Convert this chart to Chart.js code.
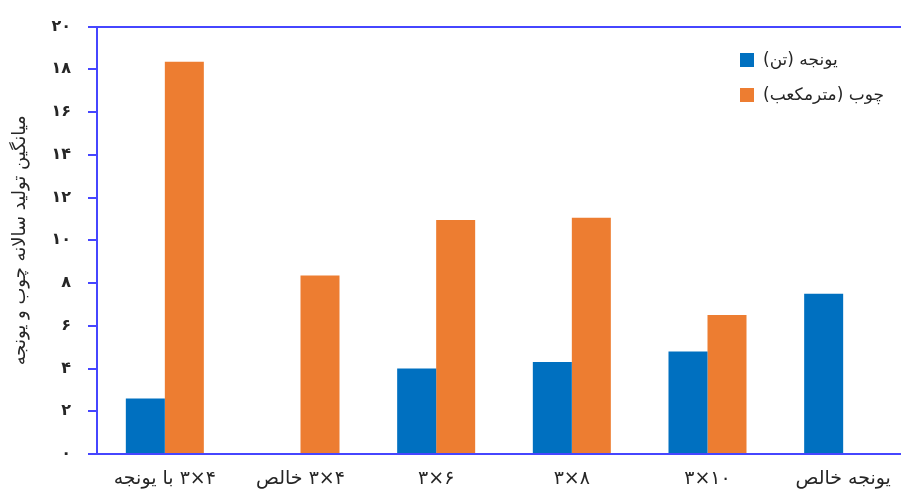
<!DOCTYPE html>
<html>
<head>
<meta charset="utf-8">
<script src="https://cdn.jsdelivr.net/npm/chart.js@4"></script>
<style>
  html, body { margin: 0; padding: 0; background: #fff; overflow: hidden; }
  #wrap { width: 912px; height: 497px; position: relative; }
  canvas { direction: rtl; }
</style>
</head>
<body>
<div id="wrap"><canvas id="c" dir="rtl"></canvas></div>
<script>
// ---- data ----
const categories = ['\u2066۳×۴\u2069 با یونجه', '\u2066۳×۴\u2069 خالص', '\u2066۳×۶\u2069', '\u2066۳×۸\u2069', '\u2066۳×۱۰\u2069', 'یونجه خالص'];
const seriesNames = ['یونجه (تن)', 'چوب (مترمکعب)'];
const alfalfa = [2.6, null, 4.0, 4.3, 4.8, 7.5];
const wood = [18.35, 8.35, 10.95, 11.05, 6.5, null];
const yTickLabels = ['۰', '۲', '۴', '۶', '۸', '۱۰', '۱۲', '۱۴', '۱۶', '۱۸', '۲۰'];
const yTitle = 'میانگین تولید سالانه چوب و یونجه';

const FONT = "'DejaVu Sans', sans-serif";
const AXIS = '#4646ff';
const BLUE = '#0070C0';
const ORANGE = '#ED7D31';
const TEXT = '#262626';

const legendPlugin = {
  id: 'customLegend',
  afterDraw(chart) {
    const ctx = chart.ctx;
    ctx.save();
    ctx.direction = 'rtl';
    ctx.font = '17px ' + FONT;
    ctx.textBaseline = 'middle';
    ctx.textAlign = 'left';
    const items = chart.data.datasets;
    const bx = 740, by = [53, 88], size = 14;
    items.forEach((ds, i) => {
      ctx.fillStyle = ds.backgroundColor;
      ctx.fillRect(bx, by[i], size, size);
      ctx.fillStyle = TEXT;
      ctx.fillText(ds.label, bx + 23, by[i] + size / 2 + 1);
    });
    ctx.restore();
  }
};

new Chart(document.getElementById('c'), {
  type: 'bar',
  data: {
    labels: categories,
    datasets: [
      { label: seriesNames[0], data: alfalfa, backgroundColor: BLUE },
      { label: seriesNames[1], data: wood, backgroundColor: ORANGE }
    ]
  },
  options: {
    responsive: true,
    maintainAspectRatio: false,
    animation: false,
    devicePixelRatio: 1,
    layout: { padding: { top: 24, right: 1, left: 0, bottom: 0 } },
    plugins: { legend: { display: false }, tooltip: { enabled: false } },
    datasets: { bar: { categoryPercentage: 0.575, barPercentage: 1 } },
    scales: {
      x: {
        grid: { display: true, drawOnChartArea: false, drawTicks: false, tickLength: 0 },
        border: { display: true, color: AXIS, width: 2 },
        ticks: {
          color: TEXT, font: { family: FONT, size: 19 }, padding: 14,
          maxRotation: 0, minRotation: 0, autoSkip: false
        },
        afterFit(scale) { scale.height = 43; }
      },
      y: {
        min: 0, max: 20,
        grid: {
          display: true, drawOnChartArea: true, drawTicks: true, tickLength: 9,
          lineWidth: 2,
          color: (c) => (c.tick && c.tick.value === 20) ? AXIS : 'rgba(0,0,0,0)',
          tickColor: AXIS, tickWidth: 2
        },
        border: { display: true, color: AXIS, width: 2 },
        ticks: {
          stepSize: 2, color: TEXT, font: { family: FONT, size: 16, weight: 'bold' }, padding: 17,
          callback: (v) => yTickLabels[Math.round(v / 2)]
        },
        title: {
          display: true, text: yTitle, color: TEXT,
          font: { family: FONT, size: 18 }, padding: { top: 10, bottom: 0 }
        },
        afterFit(scale) { scale.width = 97; }
      }
    }
  },
  plugins: [legendPlugin]
});
</script>
</body>
</html>
